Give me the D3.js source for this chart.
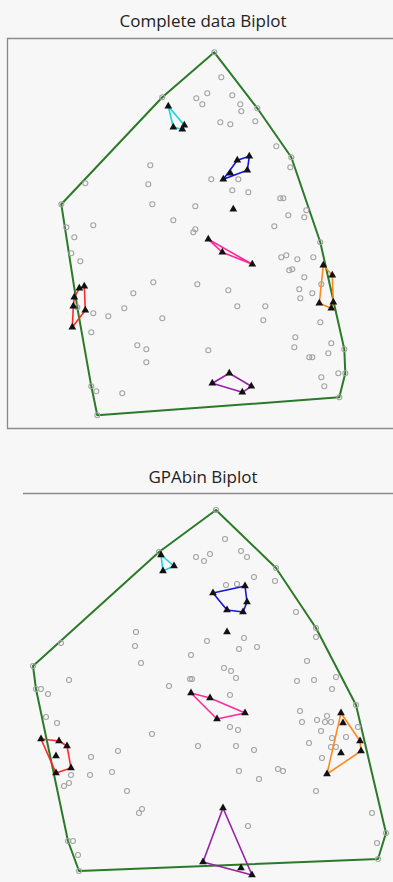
<!DOCTYPE html>
<html>
<head>
<meta charset="utf-8">
<script src="https://cdn.jsdelivr.net/npm/d3@7"></script>
<style>
  html, body { margin: 0; padding: 0; background: #f7f7f7; }
  svg { display: block; }
  .title { font-family: "Open Sans", "Noto Sans", sans-serif; font-size: 17px; fill: #222; }
</style>
</head>
<body>
<svg id="chart" width="393" height="882"></svg>
<script>
// ---- Complete data biplot: sample coordinates ----
const topSamples = [
  [-1.9,15.7],[-7.1,11.2],[-1.2,13.2],[-3.7,11.1],[-2.6,11.6],[-3.1,10.5],[-0.1,11.4],[0.7,10.5],
  [0.8,9.8],[2.4,10.1],[-1.3,8.7],[-0.3,8.5],[2.2,8.8],[4.3,6.3],[5.8,5.2],[5.7,4.2],
  [-8.3,4.4],[-8.5,2.5],[-2.2,3.0],[0.5,3.0],[-0.1,1.9],[1.5,1.7],[-14.8,2.6],[-8.1,0.5],
  [-3.8,0.3],[4.7,1.1],[5.0,1.1],[7.3,-0.1],[5.5,-0.6],[7.1,-0.8],[-6.0,-1.1],[-4.0,-2.3],
  [-3.8,-2.0],[4.1,-1.7],[-17.2,0.5],[-16.7,-1.8],[-14.0,-1.6],[-15.9,-2.8],[-16.2,-4.4],[-15.3,-5.2],
  [8.7,-3.3],[4.8,-4.8],[5.3,-4.6],[6.4,-5.0],[8.0,-4.8],[5.6,-6.1],[5.9,-6.0],[7.1,-6.8],
  [-8.0,-7.3],[-3.6,-7.5],[-0.5,-8.1],[6.6,-8.0],[-10.0,-8.4],[7.9,-8.4],[6.7,-8.9],[8.8,-7.5],
  [0.4,-9.7],[3.2,-9.7],[-10.9,-9.9],[-12.5,-10.7],[-14.0,-10.4],[-15.6,-9.8],[-7.1,-10.9],[3.0,-11.1],
  [8.7,-11.3],[-14.2,-12.3],[6.2,-12.8],[9.8,-13.4],[-9.6,-13.6],[-8.7,-14.0],[-2.5,-14.1],[6.1,-13.8],
  [9.5,-14.4],[11.1,-14.0],[7.6,-14.8],[7.9,-14.8],[-8.7,-15.3],[10.5,-16.4],[11.2,-16.4],[8.8,-16.8],
  [9.1,-17.7],[-14.2,-17.7],[-13.7,-18.2],[-11.1,-18.4],[-13.6,-20.6],[10.6,-18.8]
];
// category level points, one array per variable
const topCentre = [[0.0,0.0]];
const topCyan   = [[-6.5,10.3],[-6.0,8.2],[-5.1,8.0],[-4.9,8.4]];
const topBlue   = [[1.6,5.3],[0.4,4.9],[1.4,3.9],[-0.3,3.6],[-1.0,3.0]];
const topPink   = [[-2.5,-3.0],[-1.1,-4.3],[1.9,-5.5]];
const topRed    = [[-14.9,-7.7],[-15.4,-7.9],[-15.9,-8.8],[-16.0,-9.7],[-14.8,-10.1],[-16.1,-11.8]];
const topOrange = [[9.0,-5.6],[9.9,-6.6],[10.0,-9.3],[8.6,-9.4],[9.8,-9.9]];
const topPurple = [[-0.4,-16.4],[-2.1,-17.4],[0.9,-18.3],[1.8,-17.7]];

// ---- GPAbin biplot: sample coordinates ----
const gpaSamples = [
  [-1.1,12.2],[-6.8,8.0],[-0.2,9.3],[-3.1,7.5],[-2.3,7.1],[-1.7,7.8],[1.4,8.1],[2.0,7.5],
  [2.7,5.5],[4.8,5.1],[4.9,6.4],[-0.1,4.7],[1.0,4.8],[6.9,2.0],[8.9,0.4],[8.9,-0.5],
  [-9.1,0.0],[-9.2,-1.4],[-2.0,-0.9],[1.7,-0.6],[1.2,-1.7],[3.0,-1.5],[-16.6,-1.1],[-8.6,-3.1],
  [-3.6,-2.3],[8.0,-2.9],[-0.3,-3.6],[0.4,-3.9],[0.9,-4.6],[-3.7,-4.7],[-3.5,-4.7],[-15.8,-4.8],
  [7.0,-4.9],[8.7,-4.8],[10.9,-4.5],[-5.8,-5.4],[10.5,-5.7],[-19.1,-5.7],[-18.6,-5.7],[-17.9,-6.2],
  [0.3,-6.3],[12.9,-7.3],[7.3,-7.9],[-18.1,-8.5],[-17.0,-9.1],[7.5,-9.0],[9.0,-8.8],[9.8,-9.0],
  [10.0,-8.4],[10.4,-9.0],[0.3,-9.5],[1.1,-9.8],[-19.4,-3.4],[-7.5,-10.2],[13.1,-9.5],[9.4,-9.9],
  [10.5,-10.6],[11.9,-10.5],[8.2,-11.1],[10.4,-11.5],[10.9,-11.5],[9.5,-12.6],[-2.9,-11.4],[0.9,-11.4],
  [2.7,-11.8],[-10.9,-11.9],[-13.6,-12.5],[-15.6,-14.3],[-13.7,-14.3],[-11.5,-14.0],[1.2,-13.9],[5.1,-13.7],
  [5.6,-13.9],[3.2,-14.7],[-15.8,-15.1],[-16.3,-15.4],[-10.0,-15.9],[8.9,-15.9],[-8.5,-17.7],[-8.8,-18.1],
  [14.5,-18.1],[2.1,-19.4],[-15.9,-20.9],[-15.4,-20.9],[15.9,-20.1],[15.0,-21.1],[-14.9,-22.3],[-14.8,-23.9],
  [15.1,-22.7]
];
const gpaCentre = [[0.0,0.0]];
const gpaCyan   = [[-6.6,7.7],[-5.3,6.6],[-6.4,6.1]];
const gpaBlue   = [[1.8,4.6],[-1.4,3.9],[2.0,3.0],[0.0,2.2],[1.6,2.0]];
const gpaPink   = [[-3.6,-6.1],[-1.7,-6.6],[1.8,-8.1],[-1.0,-8.7]];
const gpaRed    = [[-18.6,-10.7],[-16.8,-10.9],[-16.0,-11.4],[-17.1,-12.4],[-15.6,-13.6],[-17.1,-14.1]];
const gpaOrange = [[11.4,-8.1],[11.6,-9.1],[13.3,-10.9],[13.4,-11.9],[11.4,-12.1],[10.0,-14.2]];
const gpaPurple = [[-0.4,-17.6],[-2.4,-23.0],[1.4,-23.6],[2.5,-24.3]];

const levelColours = ["#1cd2df", "#1414e0", "#ff2a9c", "#ff2b2b", "#ff8a1c", "#9a1fa6"];
const hullColour = "#2b7a29";
const titles = ["Complete data Biplot", "GPAbin Biplot"];

const svg = d3.select("#chart");

// frame lines
svg.append("path")
  .attr("d", "M393,38.5H7.5V428.5H393")
  .attr("fill", "none").attr("stroke", "#8a8a8a").attr("stroke-width", 1.3);
svg.append("line")
  .attr("x1", 23).attr("x2", 393).attr("y1", 493.5).attr("y2", 493.5)
  .attr("stroke", "#8a8a8a").attr("stroke-width", 1.3);

svg.append("text").attr("class", "title").attr("x", 203).attr("y", 27)
  .attr("text-anchor", "middle").text(titles[0]);
svg.append("text").attr("class", "title").attr("x", 203).attr("y", 483)
  .attr("text-anchor", "middle").text(titles[1]);

function drawBiplot(g, x, y, samples, centre, levels) {
  const proj = d => [x(d[0]), y(d[1])];

  // convex hull around the sample points
  const hull = d3.polygonHull(samples.map(proj));
  g.append("path")
    .attr("d", "M" + hull.join("L") + "Z")
    .attr("fill", "none").attr("stroke", hullColour)
    .attr("stroke-width", 2).attr("stroke-linejoin", "round");

  g.selectAll("circle.sample").data(samples).join("circle")
    .attr("class", "sample")
    .attr("cx", d => x(d[0])).attr("cy", d => y(d[1]))
    .attr("r", 2.5)
    .attr("fill", "none").attr("stroke", "#a3a3a3").attr("stroke-width", 1.1);

  // polygons joining the category level points of each variable
  levels.forEach((pts, i) => {
    const h = d3.polygonHull(pts.map(proj));
    g.append("path")
      .attr("d", "M" + h.join("L") + "Z")
      .attr("fill", "none").attr("stroke", levelColours[i])
      .attr("stroke-width", 1.6).attr("stroke-linejoin", "round");
  });

  const tri = d3.symbol().type(d3.symbolTriangle).size(26);
  const allLevels = centre.concat(...levels);
  g.selectAll("path.level").data(allLevels).join("path")
    .attr("class", "level")
    .attr("transform", d => `translate(${x(d[0])},${y(d[1])})`)
    .attr("d", tri)
    .attr("fill", "#111");
}

const xTop = d3.scaleLinear().domain([-20, 15]).range([33.3, 383.3]);
const yTop = d3.scaleLinear().domain([16, -22]).range([49.3, 429.3]);
drawBiplot(svg.append("g"), xTop, yTop, topSamples, topCentre,
  [topCyan, topBlue, topPink, topRed, topOrange, topPurple]);

const xGpa = d3.scaleLinear().domain([-20, 16]).range([27, 387]);
const yGpa = d3.scaleLinear().domain([13, -25]).range([502, 882]);
drawBiplot(svg.append("g"), xGpa, yGpa, gpaSamples, gpaCentre,
  [gpaCyan, gpaBlue, gpaPink, gpaRed, gpaOrange, gpaPurple]);
</script>
</body>
</html>
